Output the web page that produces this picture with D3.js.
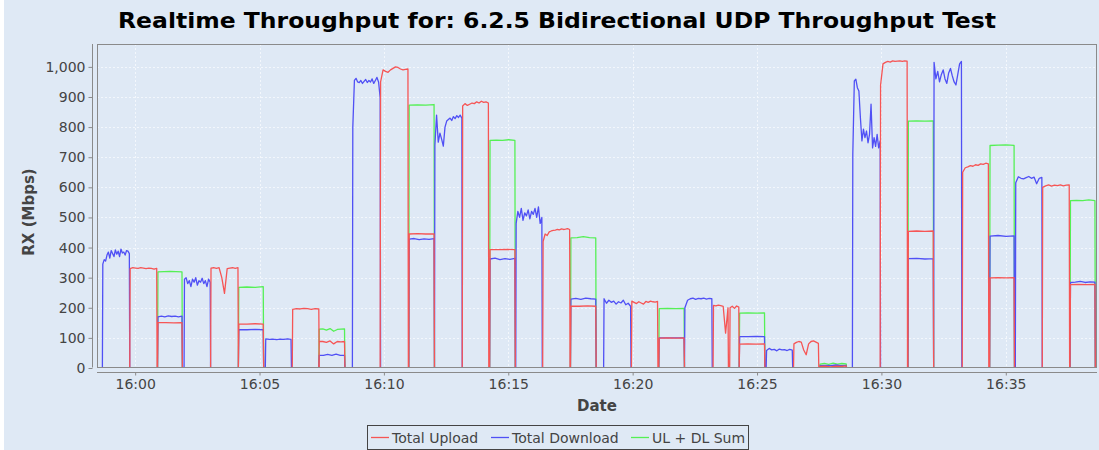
<!DOCTYPE html>
<html>
<head>
<meta charset="utf-8">
<script src="https://cdn.jsdelivr.net/npm/d3@7"></script>
<style>
  html, body { margin: 0; padding: 0; background: #ffffff; }
  svg { display: block; }
</style>
</head>
<body>
<div id="chart"></div>
<script>
// Realtime throughput, three step-like series.
// Each segment: [start, end, levels...]; levels are spaced evenly between start and end,
// and the line drops to 0 one second either side of a segment.

const chartTitle = "Realtime Throughput for: 6.2.5 Bidirectional UDP Throughput Test";
const timeStart = "15:58:28";
const timeEnd   = "16:38:40";

const seriesNames  = ["Total Upload", "Total Download", "UL + DL Sum"];
const seriesColors = ["#f65555", "#5050f5", "#55f055"];

const uploadSegments = [
  ["15:59:48", "16:00:52", [330, 333, 332, 331, 333, 332, 330, 332, 331, 328, 331]],
  ["16:00:55", "16:01:53", [151, 151, 150, 151]],
  ["16:03:03", "16:04:08", [332, 333, 331, 333, 300, 248, 330, 332, 333, 331, 333]],
  ["16:04:10", "16:05:09", [146, 146, 147, 146]],
  ["16:06:20", "16:07:23", [195, 197, 196, 198, 197, 195, 197, 196]],
  ["16:07:24", "16:08:25", [88, 88, 85, 90, 80, 88, 87, 88]],
  ["16:09:52", "16:10:58", [950, 990, 985, 982, 990, 995, 1000, 998, 993, 990, 992, 993]],
  ["16:11:01", "16:12:01", [445, 446, 445, 445]],
  ["16:13:10", "16:14:12", [870, 878, 872, 876, 880, 878, 884, 880, 886, 882, 884, 880]],
  ["16:14:16", "16:15:16", [393, 393, 394, 393]],
  ["16:16:24", "16:17:28", [420, 445, 440, 452, 455, 457, 458, 460, 459, 462, 460, 461, 463, 460]],
  ["16:17:31", "16:18:31", [205, 205, 206, 205]],
  ["16:19:58", "16:21:00", [222, 218, 214, 220, 216, 212, 221, 218, 222, 220, 219, 221]],
  ["16:21:04", "16:22:04", [99, 100, 99, 100]],
  ["16:23:15", "16:23:50", [208, 206, 209, 207, 205, 116, 200]],
  ["16:23:55", "16:24:16", [200, 205, 198, 206, 202]],
  ["16:24:18", "16:25:18", [79, 80, 79, 80]],
  ["16:26:29", "16:27:28", [80, 85, 88, 86, 60, 44, 80, 88, 90, 86, 82]],
  ["16:27:32", "16:28:35", [5, 6, 4, 6, 5, 7]],
  ["16:29:58", "16:31:02", [940, 1010, 1015, 1018, 1016, 1020, 1018, 1019, 1020, 1018, 1020, 1019]],
  ["16:31:05", "16:32:05", [454, 455, 454, 455]],
  ["16:33:16", "16:34:18", [650, 665, 668, 672, 670, 675, 673, 678, 676, 680, 678]],
  ["16:34:22", "16:35:20", [299, 300, 299, 300]],
  ["16:36:29", "16:37:33", [600, 605, 608, 604, 607, 606, 608, 605, 607, 608]],
  ["16:37:36", "16:38:35", [277, 278, 277, 278]]
];

const downloadSegments = [
  ["15:58:42", "15:59:46", [345, 360, 355, 375, 385, 365, 390, 380, 370, 392, 378, 388, 370, 395, 382, 385, 375, 390, 388, 380]],
  ["16:00:55", "16:01:53", [170, 172, 170, 173, 171, 172, 170, 172]],
  ["16:01:59", "16:03:01", [295, 300, 280, 290, 270, 295, 285, 300, 275, 290, 285, 298, 280, 290, 270, 295, 285]],
  ["16:04:10", "16:05:09", [127, 127, 128, 127]],
  ["16:05:15", "16:06:16", [97, 95, 96, 94, 96, 95, 97, 95]],
  ["16:07:24", "16:08:25", [42, 42, 45, 42, 46, 42, 42]],
  ["16:08:45", "16:09:51", [800, 955, 962, 950, 948, 955, 945, 952, 958, 948, 955, 950, 960, 945, 955, 965, 950, 898]],
  ["16:11:01", "16:12:01", [428, 430, 426, 429, 427, 430]],
  ["16:12:03", "16:13:08", [740, 840, 750, 780, 760, 737, 800, 820, 825, 830, 822, 835, 828, 838, 832, 840, 830]],
  ["16:14:16", "16:15:16", [362, 365, 360, 363, 361, 364]],
  ["16:15:19", "16:16:21", [480, 520, 500, 530, 490, 515, 505, 525, 495, 520, 510, 530, 500, 535, 480, 500]],
  ["16:17:31", "16:18:31", [229, 231, 228, 232, 230, 229]],
  ["16:18:51", "16:19:55", [230, 215, 225, 218, 222, 212, 220, 216, 225, 210, 215, 205]],
  ["16:21:04", "16:22:04", [100, 100, 100]],
  ["16:22:06", "16:23:11", [200, 225, 230, 232, 228, 231, 230, 232, 229, 231, 230]],
  ["16:24:18", "16:25:18", [104, 104, 105, 104]],
  ["16:25:23", "16:26:25", [58, 65, 60, 62, 57, 63, 60, 61, 58, 62, 59]],
  ["16:27:32", "16:28:35", [8, 9, 8, 10, 8, 9]],
  ["16:28:51", "16:29:57", [709, 953, 959, 931, 920, 831, 754, 793, 765, 787, 748, 776, 876, 731, 765, 736, 776, 731, 754]],
  ["16:31:05", "16:32:05", [363, 364, 362, 363]],
  ["16:32:07", "16:33:13", [1015, 960, 985, 950, 975, 990, 960, 945, 980, 995, 970, 950, 940, 975, 1010, 1018]],
  ["16:34:22", "16:35:20", [438, 440, 437, 439]],
  ["16:35:24", "16:36:27", [615, 635, 630, 628, 632, 636, 630, 634, 612, 630, 633]],
  ["16:37:36", "16:38:35", [284, 285, 288, 284, 286, 285]]
];

const sumSegments = [
  ["16:00:55", "16:01:53", [319, 320, 321, 320, 319]],
  ["16:04:10", "16:05:09", [268, 269, 268, 270]],
  ["16:07:24", "16:08:25", [129, 130, 126, 131, 122, 128, 129, 130]],
  ["16:11:01", "16:12:01", [873, 874, 873, 875]],
  ["16:14:16", "16:15:16", [756, 757, 756, 758, 756]],
  ["16:17:31", "16:18:31", [432, 433, 436, 433, 432]],
  ["16:21:04", "16:22:04", [197, 198, 197, 198]],
  ["16:24:18", "16:25:18", [182, 183, 182, 183]],
  ["16:27:32", "16:28:35", [13, 15, 12, 16, 13, 15, 14]],
  ["16:31:05", "16:32:05", [820, 821, 820, 821]],
  ["16:34:22", "16:35:20", [739, 740, 741, 739]],
  ["16:37:36", "16:38:35", [556, 557, 556, 558, 556]]
];

const yTicks = [0, 100, 200, 300, 400, 500, 600, 700, 800, 900, 1000];
const xTicks = ["16:00", "16:05", "16:10", "16:15", "16:20", "16:25", "16:30", "16:35"];

// ---- layout ----
const W = 1099, H = 450;
const BG = "#dfe9f5";
const plot = { left: 97, right: 1097, top: 44, bottom: 367.5 };
const parseT = d3.timeParse("%H:%M:%S");

function buildSeries(segments) {
  const pts = [[parseT(timeStart), 0]];
  for (const [s, e, vals] of segments) {
    const t0 = +parseT(s), t1 = +parseT(e);
    pts.push([new Date(t0 - 1000), 0]);
    vals.forEach((v, i) => {
      const t = vals.length > 1 ? t0 + (t1 - t0) * i / (vals.length - 1) : t0;
      pts.push([new Date(t), v]);
    });
    pts.push([new Date(t1 + 1000), 0]);
  }
  pts.push([parseT(timeEnd), 0]);
  return pts;
}

const series = [
  { name: seriesNames[0], color: seriesColors[0], pts: buildSeries(uploadSegments) },
  { name: seriesNames[1], color: seriesColors[1], pts: buildSeries(downloadSegments) },
  { name: seriesNames[2], color: seriesColors[2], pts: buildSeries(sumSegments) }
];

const x = d3.scaleTime()
  .domain([parseT(timeStart), parseT(timeEnd)])
  .range([plot.left, plot.right]);
// zero sits on the plot's bottom edge, so the outline hides the idle lines
const y = d3.scaleLinear()
  .domain([0, 1076])
  .range([368, plot.top]);

const svg = d3.select("#chart").append("svg")
  .attr("width", W)
  .attr("height", H)
  .attr("font-family", "'DejaVu Sans', sans-serif");

svg.append("rect").attr("x", 4).attr("y", 0).attr("width", W - 4).attr("height", H).attr("fill", BG);

// title
svg.append("text")
  .attr("x", 557)
  .attr("y", 28)
  .attr("text-anchor", "middle")
  .attr("font-family", "'DejaVu Sans Condensed', 'DejaVu Sans', sans-serif")
  .attr("font-weight", "bold")
  .attr("font-size", 22)
  .attr("textLength", 878)
  .attr("lengthAdjust", "spacingAndGlyphs")
  .attr("fill", "#000")
  .text(chartTitle);

// plot background + gridlines
svg.append("rect")
  .attr("x", plot.left).attr("y", plot.top)
  .attr("width", plot.right - plot.left).attr("height", plot.bottom - plot.top)
  .attr("fill", BG);

const xTickDates = xTicks.map(s => parseT(s + ":00"));

const grid = svg.append("g").attr("stroke", "#f3f7fc").attr("stroke-width", 1).attr("stroke-dasharray", "2,2");
grid.selectAll("line.gy").data(yTicks.slice(1)).join("line")
  .attr("x1", plot.left).attr("x2", plot.right)
  .attr("y1", d => Math.round(y(d)) + 0.5).attr("y2", d => Math.round(y(d)) + 0.5);
grid.selectAll("line.gx").data(xTickDates).join("line")
  .attr("y1", plot.top).attr("y2", plot.bottom)
  .attr("x1", d => Math.round(x(d)) + 0.5)
  .attr("x2", d => Math.round(x(d)) + 0.5);

// series lines (last series drawn first so upload sits on top)
svg.append("clipPath").attr("id", "clip")
  .append("rect")
  .attr("x", plot.left).attr("y", plot.top)
  .attr("width", plot.right - plot.left).attr("height", plot.bottom - plot.top);

const line = d3.line().x(d => x(d[0])).y(d => y(d[1]));
svg.append("g").attr("clip-path", "url(#clip)")
  .selectAll("path")
  .data(series.slice().reverse())
  .join("path")
  .attr("fill", "none")
  .attr("stroke", d => d.color)
  .attr("stroke-width", 1.3)
  .attr("stroke-linejoin", "round")
  .attr("d", d => line(d.pts));

// plot outline (drawn over the zero line, as in the original)
svg.append("rect")
  .attr("x", plot.left + 0.5).attr("y", plot.top + 0.5)
  .attr("width", plot.right - plot.left - 1).attr("height", plot.bottom - plot.top - 0.5)
  .attr("fill", "none").attr("stroke", "#8a8a8a");

// y axis
const yAxis = d3.axisLeft(y).tickValues(yTicks).tickFormat(d3.format(",")).tickSize(4).tickPadding(3);
const gy = svg.append("g").attr("transform", "translate(92.5,0)").call(yAxis);
gy.select(".domain").attr("stroke", "#8a8a8a").attr("d", `M0,${plot.top}V${plot.bottom}`);
gy.selectAll(".tick line").attr("stroke", "#8a8a8a");
gy.selectAll(".tick text").attr("font-size", 14).attr("fill", "#444").attr("font-family", "'DejaVu Sans', sans-serif");

// x axis
const xAxis = d3.axisBottom(x).tickValues(xTickDates).tickFormat(d3.timeFormat("%H:%M")).tickSize(3).tickPadding(4);
const gx = svg.append("g").attr("transform", "translate(0,372.5)").call(xAxis);
gx.select(".domain").attr("stroke", "#8a8a8a").attr("d", `M${plot.left},0H${plot.right}`);
gx.selectAll(".tick line").attr("stroke", "#8a8a8a");
gx.selectAll(".tick text").attr("font-size", 14).attr("fill", "#444").attr("font-family", "'DejaVu Sans', sans-serif");

// axis labels
svg.append("text")
  .attr("x", (plot.left + plot.right) / 2)
  .attr("y", 411)
  .attr("text-anchor", "middle")
  .attr("font-weight", "bold")
  .attr("font-size", 15)
  .attr("fill", "#444")
  .text("Date");

svg.append("text")
  .attr("transform", "translate(34,212) rotate(-90)")
  .attr("text-anchor", "middle")
  .attr("font-weight", "bold")
  .attr("font-size", 15)
  .attr("fill", "#444")
  .text("RX (Mbps)");

// legend
const legend = svg.append("g");
legend.append("rect")
  .attr("x", 367.5).attr("y", 425.5).attr("width", 381).attr("height", 24)
  .attr("fill", BG).attr("stroke", "#444");
const legendX = [371, 491, 631];
const items = legend.selectAll("g.item").data(series).join("g")
  .attr("transform", (d, i) => `translate(${legendX[i]},0)`);
items.append("line")
  .attr("x1", 0).attr("x2", 18).attr("y1", 437.5).attr("y2", 437.5)
  .attr("stroke", d => d.color).attr("stroke-width", 1.3);
items.append("text")
  .attr("x", 21).attr("y", 442.5)
  .attr("font-size", 14).attr("fill", "#444")
  .text(d => d.name);
</script>
</body>
</html>
